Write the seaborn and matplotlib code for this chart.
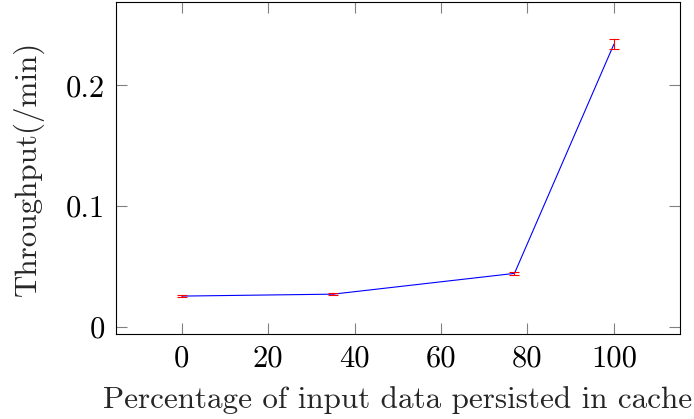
import matplotlib
matplotlib.use("Agg")
import matplotlib.pyplot as plt
import seaborn as sns
import pandas as pd

# data
pct_cached = [0, 35, 77, 100]
throughput = [0.0254, 0.0270, 0.0442, 0.234]
throughput_err = [0.0006, 0.0006, 0.0012, 0.0040]
x_ticks = [0, 20, 40, 60, 80, 100]
y_ticks = [0, 0.1, 0.2]
y_tick_labels = ["0", "0.1", "0.2"]

sns.set_style("ticks")
plt.rcParams['font.family'] = ['cmr10', 'DejaVu Serif']
plt.rcParams['axes.formatter.use_mathtext'] = True

df = pd.DataFrame({"pct": pct_cached, "thr": throughput})

fig = plt.figure(figsize=(6.94, 4.19), dpi=100)
ax = fig.add_axes([116/694, 1-334/419, (680-116)/694, (334-2)/419])

sns.lineplot(data=df, x="pct", y="thr", ax=ax, color=(0, 0, 1), linewidth=0.8, zorder=2)
ax.errorbar(pct_cached, throughput, yerr=throughput_err, fmt="none",
            ecolor=(1, 0, 0), elinewidth=0.8, capsize=3.6, capthick=0.8, zorder=3)

ax.set_xlim(-15.2, 115.3)
ax.set_ylim(-0.006, 0.269)
ax.set_xticks(x_ticks)
ax.set_xticklabels([str(t) for t in x_ticks])
ax.set_yticks(y_ticks)
ax.set_yticklabels(y_tick_labels)

for s in ax.spines.values():
    s.set_visible(True)
    s.set_color("black")
    s.set_linewidth(0.8)

ax.tick_params(direction="in", length=8, width=0.8, color=(0.5, 0.5, 0.5),
               top=True, right=True, labelsize=22, pad=8, labelcolor="black")

ax.set_xlabel("Percentage of input data persisted in cache", fontsize=22.4, labelpad=10)
ax.set_ylabel("Throughput(/min)", fontsize=22.4, labelpad=16)

fig.savefig("out.png", dpi=100)
